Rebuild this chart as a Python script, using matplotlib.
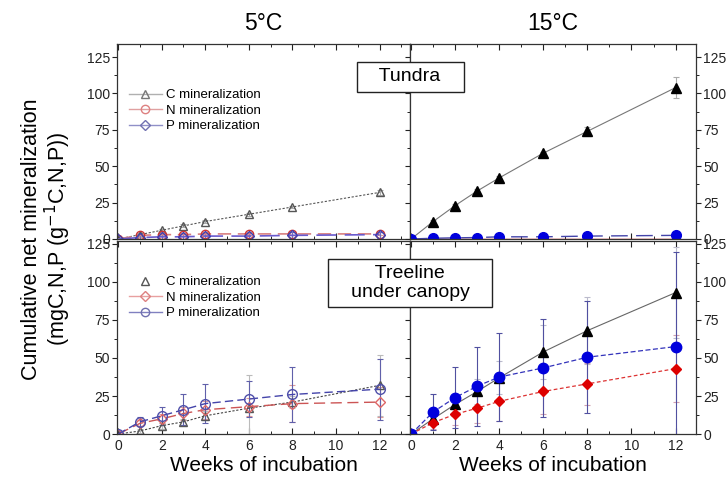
import numpy as np
import matplotlib
matplotlib.use('Agg')
import matplotlib.pyplot as plt
from matplotlib.ticker import MultipleLocator

matplotlib.rcParams['font.family'] = ['Liberation Sans', 'DejaVu Sans']

weeks = [0, 1, 2, 3, 4, 6, 8, 12]

# tundra, 5 degC
t5_c = [0, 3, 6, 9, 12, 17, 22, 32]
t5_c_err = [0, 1, 1, 1, 1, 1, 1, 2]
t5_n = [0, 2.5, 3, 3, 3.5, 3.5, 3.5, 3.5]
t5_n_err = [0, 1, 1, 1, 1, 1, 1, 1]
t5_p = [0, 1, 1.5, 1.5, 2, 2, 2.5, 3]
t5_p_err = [0, 2, 2, 2, 2, 2, 2, 2]

# tundra, 15 degC
t15_c = [0, 12, 23, 33, 42, 59, 74, 104]
t15_c_err = [0, 1, 1, 1.5, 1, 1, 3, 7]
t15_n = [0, 0, 0, 0, 0, 0, 0, 0]
t15_p = [0, 0.5, 0.8, 1, 1.5, 1.5, 2, 2.5]
t15_p_err = [0, 0.5, 0.5, 0.5, 0.5, 0.5, 0.5, 0.5]

# treeline under canopy, 5 degC
u5_c = [0, 2, 5.5, 8, 12, 17, 21, 32]
u5_c_err = [0, 1, 2, 2, 3, 22, 4, 20]
u5_n = [0, 7, 10, 13.5, 16, 18, 20, 21]
u5_n_err = [0, 2, 3, 4, 6, 6, 12, 10]
u5_p = [0, 8, 12, 16, 20, 23, 26, 29.5]
u5_p_err = [0, 3, 6, 10, 13, 12, 18, 20]

# treeline under canopy, 15 degC
u15_c = [0, 10, 19.5, 28, 37, 54, 68, 93]
u15_c_err = [0, 3, 6, 8, 11, 18, 22, 30]
u15_n = [0, 7.5, 13, 17, 21.5, 28, 33, 43]
u15_n_err = [0, 4, 7, 10, 13, 15, 14, 22]
u15_p = [0, 14.5, 24, 31.5, 37.5, 43.5, 50.5, 57.5]
u15_p_err = [0, 12, 20, 26, 29, 32, 37, 62]

fig = plt.figure(figsize=(7.27, 4.78), dpi=100)
ax_tl = fig.add_axes([0.161, 0.500, 0.403, 0.408])
ax_tr = fig.add_axes([0.564, 0.500, 0.394, 0.408])
ax_bl = fig.add_axes([0.161, 0.092, 0.403, 0.404])
ax_br = fig.add_axes([0.564, 0.092, 0.394, 0.404])

ekw = dict(capsize=2.5, elinewidth=0.8, capthick=0.8)

# 5 degC tundra: open markers
ax_tl.errorbar(weeks, t5_c, yerr=t5_c_err, color='#555555', ls=(0, (2, 1.5)), lw=0.8,
               marker='^', ms=6, mfc='none', mec='#555555', ecolor='#aaaaaa', **ekw)
ax_tl.errorbar(weeks, t5_n, yerr=t5_n_err, color='#d98080', ls=(0, (8, 4)), lw=1.2,
               marker='o', ms=6, mfc='none', mec='#cc3333', ecolor='#d99999', **ekw)
ax_tl.errorbar(weeks, t5_p, yerr=t5_p_err, color='#6a5acd', ls=(0, (12, 5)), lw=1.2,
               marker='D', ms=5.5, mfc='none', mec='#4040b0', ecolor='#7070c0', **ekw)
h1, = ax_tl.plot([], [], color='#b0b0b0', lw=1, marker='^', ms=6, mfc='none', mec='#777777')
h2, = ax_tl.plot([], [], color='#e0a0a0', lw=1, marker='o', ms=6, mfc='none', mec='#dd8080')
h3, = ax_tl.plot([], [], color='#9090c8', lw=1, marker='D', ms=5.5, mfc='none', mec='#7070b0')
ax_tl.legend([h1, h2, h3], ['C mineralization', 'N mineralization', 'P mineralization'],
             loc='upper left', bbox_to_anchor=(0.0, 0.83), frameon=False, fontsize=9.5,
             handlelength=2.5, handletextpad=0.3, labelspacing=0.25)

# 15 degC tundra: filled markers
ax_tr.errorbar(weeks, t15_c, yerr=t15_c_err, color='#777777', ls='-', lw=0.8,
               marker='^', ms=7, mfc='black', mec='black', ecolor='#aaaaaa', **ekw)
ax_tr.errorbar(weeks, t15_n, color='#dd0000', ls='-', lw=1.0,
               marker='D', ms=4, mfc='#dd0000', mec='#dd0000')
ax_tr.errorbar(weeks, t15_p, yerr=t15_p_err, color='#4444aa', ls=(0, (12, 6)), lw=1.0,
               marker='o', ms=7, mfc='#0000dd', mec='#0000dd', ecolor='#8888cc', **ekw)

# 5 degC treeline
ax_bl.errorbar(weeks, u5_c, yerr=u5_c_err, color='#444444', ls=(0, (2, 1.5)), lw=0.8,
               marker='^', ms=6, mfc='none', mec='#555555', ecolor='#bbbbbb', **ekw)
ax_bl.errorbar(weeks, u5_n, yerr=u5_n_err, color='#cc5555', ls=(0, (8, 4)), lw=1.0,
               marker='D', ms=5.5, mfc='none', mec='#dd6666', ecolor='#dd9999', **ekw)
ax_bl.errorbar(weeks, u5_p, yerr=u5_p_err, color='#4444aa', ls=(0, (6, 3)), lw=1.0,
               marker='o', ms=7, mfc='none', mec='#5050aa', ecolor='#6060aa', **ekw)
hc, = ax_bl.plot([], [], ls='none', marker='^', ms=6, mfc='none', mec='#555555')
hn, = ax_bl.plot([], [], color='#e8a0a0', lw=1, marker='D', ms=5.5, mfc='none', mec='#dd8080')
hp, = ax_bl.plot([], [], color='#8080c0', lw=1, marker='o', ms=6, mfc='none', mec='#7070b0')
ax_bl.legend([hc, hn, hp], ['C mineralization', 'N mineralization', 'P mineralization'],
             loc='upper left', bbox_to_anchor=(0.0, 0.88), frameon=False, fontsize=9.5,
             handlelength=2.5, handletextpad=0.3, labelspacing=0.25)

# 15 degC treeline
ax_br.errorbar(weeks, u15_c, yerr=u15_c_err, color='#666666', ls='-', lw=0.8,
               marker='^', ms=7, mfc='black', mec='black', ecolor='#bbbbcc', **ekw)
ax_br.errorbar(weeks, u15_n, yerr=u15_n_err, color='#dd3333', ls=(0, (3, 2)), lw=0.9,
               marker='D', ms=5.5, mfc='#dd0000', mec='#dd0000', ecolor='#d0a0b0', **ekw)
ax_br.errorbar(weeks, u15_p, yerr=u15_p_err, color='#3333bb', ls=(0, (4, 2)), lw=0.9,
               marker='o', ms=7.5, mfc='#0000dd', mec='#0000dd', ecolor='#5050a0', **ekw)

for ax in (ax_tl, ax_tr, ax_bl, ax_br):
    ax.xaxis.set_major_locator(MultipleLocator(2))
    ax.xaxis.set_minor_locator(MultipleLocator(1))
    ax.yaxis.set_major_locator(MultipleLocator(25))
    ax.yaxis.set_minor_locator(MultipleLocator(12.5))
    ax.tick_params(axis='x', which='both', direction='in', top=True, bottom=True)
    ax.tick_params(axis='x', which='major', length=4)
    ax.tick_params(axis='x', which='minor', length=2.5)
    ax.tick_params(axis='y', which='major', length=3.5, pad=1.5)
    ax.tick_params(axis='y', which='minor', length=2)
    ax.tick_params(labelsize=10, colors='#222222')
    for s in ax.spines.values():
        s.set_color('#333333')
        s.set_linewidth(0.9)

for ax in (ax_tl, ax_bl):
    ax.set_xlim(-0.05, 13.4)
    ax.tick_params(axis='y', which='both', direction='out', left=True, right=False)
for ax in (ax_tr, ax_br):
    ax.set_xlim(-0.05, 12.95)
    ax.tick_params(axis='y', which='both', direction='out', left=True, right=True,
                   labelleft=False, labelright=True)
for ax in (ax_tl, ax_tr):
    ax.set_ylim(0, 134)
    ax.tick_params(axis='x', labelbottom=False)
for ax in (ax_bl, ax_br):
    ax.set_ylim(0, 127)
    ax.set_xlabel('Weeks of incubation', fontsize=15, labelpad=2)

ax_tl.set_title('5°C', fontsize=16.5, pad=10)
ax_tr.set_title('15°C', fontsize=16.5, pad=10)

fig.text(0.065, 0.5, 'Cumulative net mineralization\n(mgC,N,P (g$^{-1}$C,N,P))',
         rotation=90, ha='center', va='center', fontsize=15.5, linespacing=1.05)

box = dict(boxstyle='square,pad=0.35', fc='white', ec='#222222', lw=1.0)
fig.text(0.564, 0.839, '   Tundra   ', ha='center', va='center', fontsize=14, bbox=box)
fig.text(0.564, 0.408, '   Treeline   \n   under canopy   ', ha='center', va='center', fontsize=14,
         bbox=box, multialignment='center', linespacing=1.1)

fig.savefig('out.png', dpi=100)
